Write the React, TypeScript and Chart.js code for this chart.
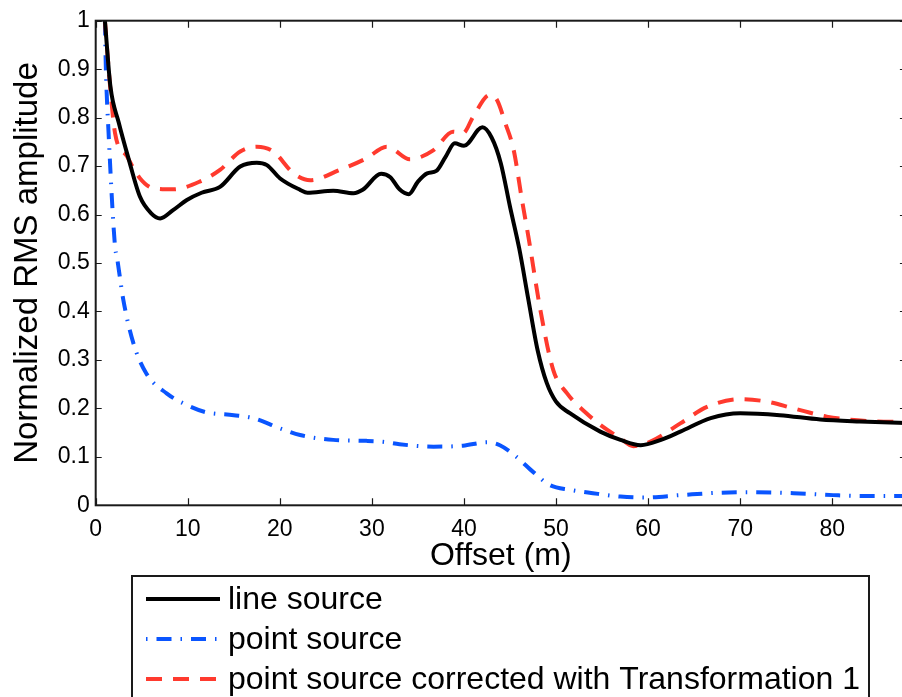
import React, { useEffect, useRef } from "react";
import { Chart, registerables } from "chart.js";

Chart.register(...registerables);

// ---- data ----
const lineOffsets = [1, 1.6, 2.5, 3.5, 4.8, 6, 7, 8.4, 9.9, 11.5, 13.5, 15.7, 17.5, 18.6, 20, 22.2, 23, 25.8, 28, 29, 31, 32, 33, 34, 35, 36, 37, 38, 39, 40, 42, 43, 44, 45, 46, 47, 48, 49, 50, 51.5, 54.8, 57, 59.2, 61.4, 63.5, 66.8, 70, 74.3, 78.7, 83, 88];
const lineSource = [1.0, 0.864, 0.79, 0.72, 0.637, 0.603, 0.592, 0.609, 0.63, 0.645, 0.657, 0.699, 0.707, 0.702, 0.675, 0.651, 0.645, 0.649, 0.644, 0.651, 0.684, 0.677, 0.652, 0.642, 0.668, 0.685, 0.69, 0.719, 0.747, 0.742, 0.78, 0.759, 0.706, 0.616, 0.53, 0.424, 0.32, 0.252, 0.214, 0.19, 0.152, 0.135, 0.124, 0.135, 0.152, 0.18, 0.19, 0.186, 0.177, 0.173, 0.17];

const pointOffsets = [1, 1.1, 1.4, 2.1, 2.3, 3, 4.1, 5.5, 7.7, 9.9, 12, 15, 17.1, 20, 22.2, 25.8, 29.4, 31.2, 33, 36.7, 39.9, 42.5, 43.9, 45.7, 47.5, 49.3, 51.5, 54, 57, 59.5, 63.5, 67.8, 71.1, 75.8, 80.1, 83.7, 88];
const pointSource = [1.0, 0.905, 0.768, 0.534, 0.513, 0.424, 0.334, 0.272, 0.231, 0.207, 0.192, 0.186, 0.18, 0.159, 0.145, 0.135, 0.133, 0.131, 0.126, 0.121, 0.123, 0.13, 0.124, 0.1, 0.069, 0.042, 0.032, 0.025, 0.018, 0.016, 0.021, 0.026, 0.027, 0.025, 0.021, 0.019, 0.019];

const correctedOffsets = [1, 1.6, 2.1, 3.4, 4.8, 6.3, 8.4, 11.3, 13.5, 15.7, 17.5, 19.3, 21.5, 23.3, 26.5, 29.4, 31.6, 32.3, 34.1, 36.7, 38.8, 39.9, 41, 42.8, 43.6, 44.5, 45.4, 46.3, 47, 48.3, 49.7, 51.2, 53.3, 54.8, 57, 58.4, 60.2, 63.5, 66.4, 70, 72.9, 75.8, 79.4, 83.7, 88];
const correctedSource = [1.0, 0.857, 0.768, 0.72, 0.675, 0.654, 0.652, 0.668, 0.692, 0.73, 0.74, 0.73, 0.685, 0.671, 0.692, 0.716, 0.74, 0.735, 0.714, 0.733, 0.771, 0.768, 0.802, 0.847, 0.836, 0.788, 0.733, 0.63, 0.554, 0.403, 0.279, 0.231, 0.19, 0.166, 0.138, 0.122, 0.131, 0.169, 0.203, 0.219, 0.214, 0.2, 0.183, 0.174, 0.172];

const seriesLabels = ["line source", "point source", "point source corrected with Transformation 1"];
const xTickStep = 10;
const yTickStep = 0.1;
const xMin = 0;
const xMax = 88;
const yMin = 0;
const yMax = 1;

const FONT = "'Liberation Sans', Arial, Helvetica, sans-serif";

const pairs = (xs: number[], ys: number[]) => xs.map((x, i) => ({ x, y: ys[i] }));

// frame + inward ticks (MATLAB style box)
const framePlugin = {
  id: "frame",
  afterDraw(chart: any) {
    const { ctx, chartArea, scales } = chart;
    const { left, right, top, bottom } = chartArea;
    ctx.save();
    ctx.strokeStyle = "#1a1a1a";
    ctx.lineWidth = 1.2;
    const tl = 7;
    ctx.beginPath();
    scales.x.ticks.forEach((t: any) => {
      const px = Math.round(scales.x.getPixelForValue(t.value)) + 0.5;
      ctx.moveTo(px, bottom);
      ctx.lineTo(px, bottom - tl);
      ctx.moveTo(px, top);
      ctx.lineTo(px, top + tl);
    });
    scales.y.ticks.forEach((t: any) => {
      const py = Math.round(scales.y.getPixelForValue(t.value)) + 0.5;
      ctx.moveTo(left, py);
      ctx.lineTo(left + 6, py);
      ctx.moveTo(right, py);
      ctx.lineTo(right - 6, py);
    });
    ctx.stroke();
    ctx.lineWidth = 2;
    ctx.strokeStyle = "#1a1a1a";
    ctx.strokeRect(left, top, right - left, bottom - top);
    ctx.restore();
  },
};

// boxed legend below the axes
const boxLegendPlugin = {
  id: "boxLegend",
  afterDraw(chart: any) {
    const { ctx } = chart;
    const boxLeft = 132;
    const boxTop = 576;
    const boxRight = 869;
    const boxBottom = 760;
    ctx.save();
    ctx.fillStyle = "#ffffff";
    ctx.fillRect(boxLeft, boxTop, boxRight - boxLeft, boxBottom - boxTop);
    ctx.strokeStyle = "#1a1a1a";
    ctx.lineWidth = 2;
    ctx.strokeRect(boxLeft, boxTop, boxRight - boxLeft, boxBottom - boxTop);
    chart.data.datasets.forEach((ds: any, i: number) => {
      const y = 599 + i * 40;
      ctx.save();
      ctx.strokeStyle = ds.borderColor;
      ctx.lineWidth = ds.borderWidth;
      ctx.setLineDash(ds.legendDash || ds.borderDash || []);
      ctx.beginPath();
      ctx.moveTo(146, y);
      ctx.lineTo(220, y);
      ctx.stroke();
      ctx.restore();
      ctx.fillStyle = "#000";
      ctx.font = `32px ${FONT}`;
      ctx.textBaseline = "middle";
      ctx.textAlign = "left";
      ctx.fillText(ds.label, 228, y + 1);
    });
    ctx.restore();
  },
};

export default function App() {
  const canvasRef = useRef<HTMLCanvasElement | null>(null);

  useEffect(() => {
    if (!canvasRef.current) return;
    const chart = new Chart(canvasRef.current, {
      type: "line",
      data: {
        datasets: [
          {
            label: seriesLabels[0],
            data: pairs(lineOffsets, lineSource),
            borderColor: "#000000",
            borderWidth: 4,
            pointRadius: 0,
            cubicInterpolationMode: "monotone",
            borderJoinStyle: "round",
            order: 1,
          } as any,
          {
            label: seriesLabels[1],
            data: pairs(pointOffsets, pointSource),
            borderColor: "#0a55ff",
            borderWidth: 4,
            borderDash: [15, 9, 1.5, 9],
            legendDash: [1.5, 9, 15, 9],
            pointRadius: 0,
            cubicInterpolationMode: "monotone",
            order: 3,
          } as any,
          {
            label: seriesLabels[2],
            data: pairs(correctedOffsets, correctedSource),
            borderColor: "#ff3a2e",
            borderWidth: 4,
            borderDash: [16, 11],
            pointRadius: 0,
            cubicInterpolationMode: "monotone",
            order: 2,
          } as any,
        ],
      },
      options: {
        animation: false,
        responsive: false,
        devicePixelRatio: 1,
        layout: { padding: { top: 20.7, right: 4.1, bottom: 144.7, left: 0 } },
        plugins: {
          legend: { display: false },
          tooltip: { enabled: false },
        },
        scales: {
          x: {
            type: "linear",
            min: xMin,
            max: xMax,
            grid: { display: false, drawTicks: false },
            border: { display: false },
            ticks: {
              stepSize: xTickStep,
              includeBounds: false,
              color: "#000",
              font: { family: FONT, size: 23 },
              padding: 11,
              maxRotation: 0,
            },
            title: {
              display: true,
              text: "Offset (m)",
              color: "#000",
              font: { family: FONT, size: 32 },
              padding: { top: 0, bottom: 0 },
            },
            afterFit(scale: any) {
              scale.height = 70;
            },
          },
          y: {
            type: "linear",
            min: yMin,
            max: yMax,
            grid: { display: false, drawTicks: false },
            border: { display: false },
            ticks: {
              stepSize: yTickStep,
              color: "#000",
              font: { family: FONT, size: 23 },
              padding: 6,
              callback: (v: any) => String(Math.round(Number(v) * 10) / 10),
            },
            title: {
              display: true,
              text: "Normalized RMS amplitude",
              color: "#000",
              font: { family: FONT, size: 33 },
              padding: { top: 8, bottom: 0 },
            },
            afterFit(scale: any) {
              scale.width = 95.7;
            },
          },
        },
      } as any,
      plugins: [framePlugin, boxLegendPlugin],
    });
    return () => chart.destroy();
  }, []);

  return (
    <div
      style={{
        position: "absolute",
        left: 0,
        top: 0,
        width: 902,
        height: 697,
        overflow: "hidden",
        background: "#ffffff",
      }}
    >
      <canvas ref={canvasRef} width={910} height={720} style={{ display: "block" }} />
    </div>
  );
}
